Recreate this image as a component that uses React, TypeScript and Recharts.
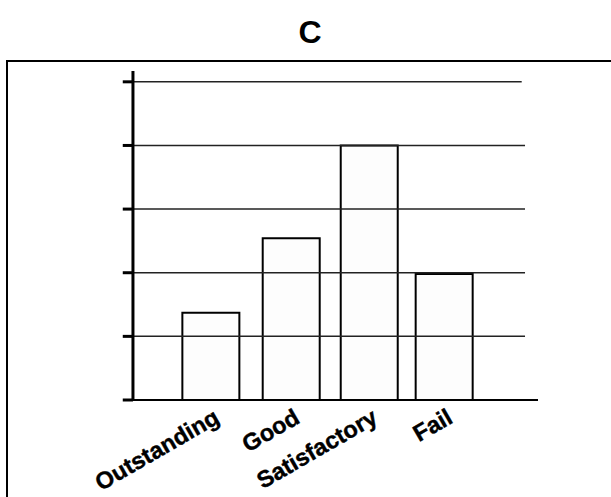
import { BarChart, Bar, XAxis, YAxis, ReferenceLine } from "recharts";

// grade categories and bar heights (unlabelled value axis, one unit per gridline)
const categories = ["Outstanding", "Good", "Satisfactory", "Fail"];
const values = [1.37, 2.54, 4.0, 1.98];
// bar centres on the numeric x scale (one unit per tick interval)
const barPositions = [1.49, 2.53, 3.54, 4.51];
const boundaryTicks = [1, 2, 3, 4, 5];
const yTicks = [0, 1, 2, 3, 4, 5];

const data = categories.map((name, i) => ({
  name,
  pos: barPositions[i],
  value: values[i]
}));

const X_DOMAIN: [number, number] = [0.366, 5.725];
const Y_DOMAIN: [number, number] = [0, 5.17];
const Y_AXIS_AT = 0.482;
const Y_TICK_FROM = 0.35;
const GRID_TO = 5.557;
const TOP_GRID_TO = 5.514;

const FONT = "'Liberation Sans', Arial, Helvetica, sans-serif";

function CategoryTick(props: any) {
  const { x, y, payload } = props;
  const idx = barPositions.indexOf(payload.value);
  const px = x + 10;
  const py = y + 10;
  return (
    <text
      x={px}
      y={py}
      textAnchor="end"
      transform={`rotate(-30, ${px}, ${py})`}
      fontFamily={FONT}
      fontWeight="bold"
      fontSize={23.5}
      fill="#000"
      stroke="#000"
      strokeWidth={0.4}
    >
      {categories[idx]}
    </text>
  );
}

export default function App() {
  return (
    <div
      style={{
        position: "absolute",
        left: 0,
        top: 0,
        width: 611,
        height: 497,
        overflow: "hidden",
        background: "#fff"
      }}
    >
      <div
        style={{
          position: "absolute",
          left: 0,
          top: 13,
          width: 620,
          textAlign: "center",
          fontFamily: FONT,
          fontWeight: "bold",
          fontSize: 32,
          lineHeight: "38px"
        }}
      >
        C
      </div>
      <div
        style={{
          position: "absolute",
          left: 6,
          top: 60,
          width: 700,
          height: 600,
          border: "2px solid #000"
        }}
      />
      <div style={{ position: "absolute", left: 0, top: 0 }}>
        <BarChart
          width={611}
          height={497}
          data={data}
          margin={{ top: 71, right: 73, left: 124, bottom: 25 }}
        >
          <XAxis
            dataKey="pos"
            type="number"
            domain={X_DOMAIN}
            allowDataOverflow
            ticks={[Y_AXIS_AT, ...boundaryTicks]}
            interval={0}
            tick={false}
            tickSize={10}
            tickLine={{ stroke: "#000", strokeWidth: 3 }}
            axisLine={{ stroke: "#000", strokeWidth: 2 }}
            height={12}
          />
          <XAxis
            xAxisId="labels"
            dataKey="pos"
            type="number"
            domain={X_DOMAIN}
            allowDataOverflow
            ticks={barPositions}
            interval={0}
            axisLine={false}
            tickLine={false}
            tickSize={0}
            tickMargin={0}
            tick={<CategoryTick />}
            height={60}
          />
          <YAxis type="number" domain={Y_DOMAIN} allowDataOverflow hide />
          {yTicks.slice(1).map((t) => (
            <ReferenceLine
              key={`g${t}`}
              segment={[
                { x: Y_AXIS_AT, y: t },
                { x: t === 5 ? TOP_GRID_TO : GRID_TO, y: t }
              ]}
              stroke="#222"
              strokeWidth={1.5}
              ifOverflow="visible"
            />
          ))}
          <Bar
            dataKey="value"
            barSize={57}
            fill="#fdfdfd"
            stroke="#000"
            strokeWidth={2}
            isAnimationActive={false}
          />
          <ReferenceLine x={Y_AXIS_AT} stroke="#000" strokeWidth={3} ifOverflow="visible" />
          {yTicks.map((t) => (
            <ReferenceLine
              key={`t${t}`}
              segment={[
                { x: Y_TICK_FROM, y: t },
                { x: Y_AXIS_AT, y: t }
              ]}
              stroke="#000"
              strokeWidth={3}
              ifOverflow="visible"
            />
          ))}
        </BarChart>
      </div>
    </div>
  );
}
